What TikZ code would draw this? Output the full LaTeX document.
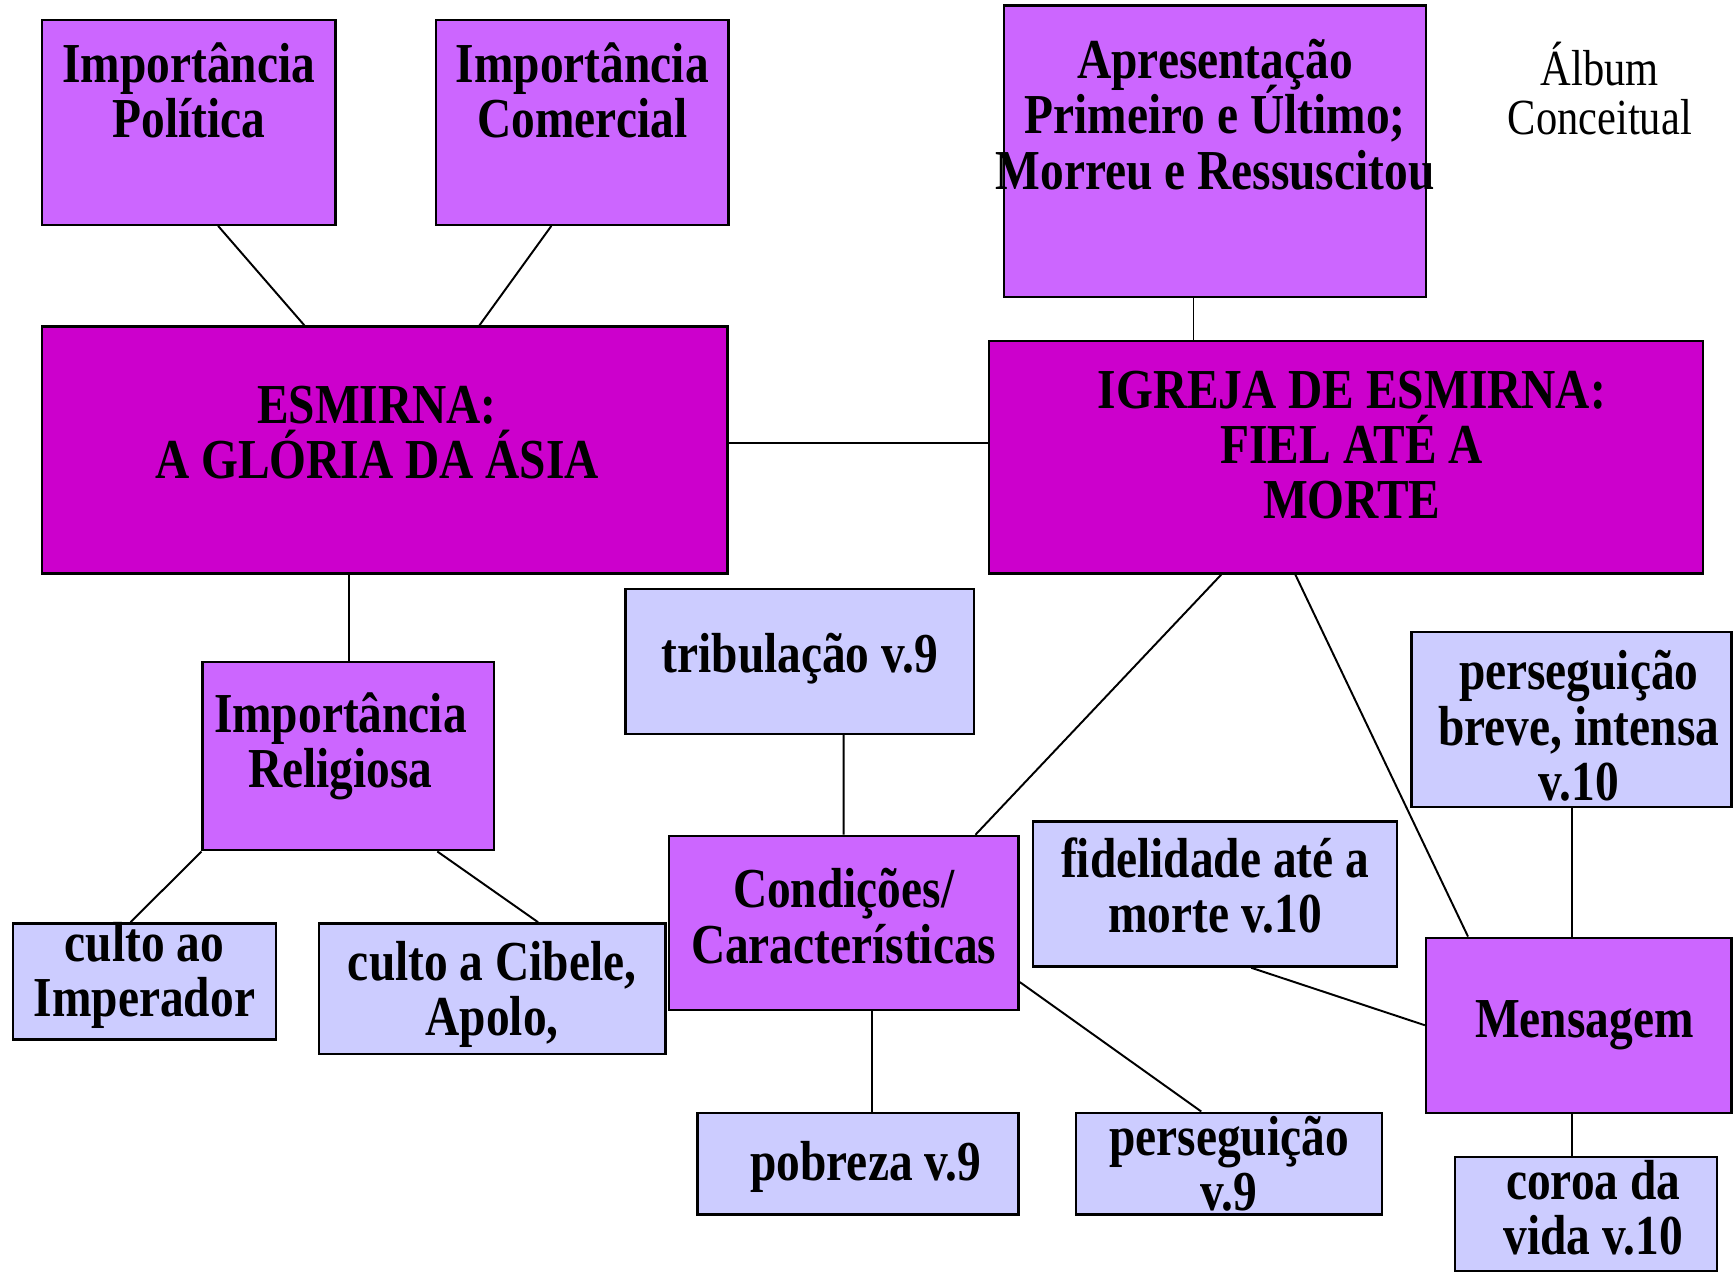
\documentclass[tikz,border=0pt]{standalone}
\usepackage{fontspec}
\setmainfont{Liberation Serif}[FakeStretch=0.84]
\usetikzlibrary{positioning}
\definecolor{lilac}{RGB}{204,102,255}
\definecolor{plum}{RGB}{204,0,204}
\definecolor{lavender}{RGB}{204,204,255}
\lineskiplimit=-\maxdimen

\begin{document}
\begin{tikzpicture}[x=0.1mm,y=-0.1mm]
\tikzstyle{box}=[draw=black,line width=0.6pt,rectangle,inner sep=0pt]
\tikzstyle{lilacbox}=[box,fill=lilac]
\tikzstyle{plumbox}=[box,fill=plum]
\tikzstyle{lavbox}=[box,fill=lavender]
\tikzstyle{txt}=[align=center,inner sep=0pt,font=\fontsize{14.5}{14.2}\selectfont\bfseries]
\tikzstyle{link}=[line width=0.5pt]
\useasboundingbox (0,0) rectangle (1568,1150);
% boxes
\node [lilacbox,minimum width=26.5mm,minimum height=18.5mm] at (170.5,110.5) (pol) {};
\node [lilacbox,minimum width=26.4mm,minimum height=18.5mm] at (526,110.5) (com) {};
\node [lilacbox,minimum width=38.1mm,minimum height=26.3mm] at (1097.5,136.5) (apr) {};
\node [plumbox,minimum width=61.9mm,minimum height=22.3mm] at (347.5,406.5) (esm) {};
\node [plumbox,minimum width=64.5mm,minimum height=21mm] at (1215.5,413) (igr) {};
\node [lilacbox,minimum width=26.3mm,minimum height=17mm] at (314.5,683) (rel) {};
\node [lavbox,minimum width=23.7mm,minimum height=10.5mm] at (130.5,886.5) (imp) {};
\node [lavbox,minimum width=31.3mm,minimum height=11.8mm] at (444.5,893) (cib) {};
\node [lavbox,minimum width=31.5mm,minimum height=13.1mm] at (722.5,597.5) (tri) {};
\node [lilacbox,minimum width=31.6mm,minimum height=15.7mm] at (762,833.5) (con) {};
\node [lavbox,minimum width=29mm,minimum height=9.2mm] at (775,1051) (pob) {};
\node [lavbox,minimum width=27.6mm,minimum height=9.2mm] at (1110,1051) (pv9) {};
\node [lavbox,minimum width=32.9mm,minimum height=13.1mm] at (1097.5,807.5) (fid) {};
\node [lavbox,minimum width=28.9mm,minimum height=15.8mm] at (1419.5,650) (pbr) {};
\node [lilacbox,minimum width=27.6mm,minimum height=15.8mm] at (1426,926) (men) {};
\node [lavbox,minimum width=23.7mm,minimum height=10.3mm] at (1432.5,1096.5) (cor) {};
% texts
\node [txt] at ([yshift=2.9mm]pol) (pol-t) {Importância\\Política};
\node [txt] at ([yshift=2.9mm]com) (com-t) {Importância\\Comercial};
\node [txt] at ([yshift=3.3mm]apr) (apr-t) {Apresentação\\Primeiro e Último;\\Morreu e Ressuscitou};
\node [txt] at ([xshift=-0.7mm,yshift=1.55mm]esm) (esm-t) {ESMIRNA:\\A GLÓRIA DA ÁSIA};
\node [txt] at ([xshift=0.55mm,yshift=1.1mm]igr) (igr-t) {IGREJA DE ESMIRNA:\\FIEL ATÉ A\\MORTE};
\node [txt] at ([xshift=-0.7mm,yshift=0.9mm]rel) (rel-t) {Importância\\Religiosa};
\node [txt] at ([yshift=0.55mm]imp) (imp-t) {culto ao\\Imperador};
\node [txt] at ([yshift=-0.5mm]cib) (cib-t) {culto a Cibele,\\Apolo,};
\node [txt] at ([yshift=0.25mm]tri) (tri-t) {tribulação v.9};
\node [txt] at ([yshift=0.6mm]con) (con-t) {Condições/\\Características};
\node [txt] at ([xshift=0.7mm,yshift=-0.3mm]pob) (pob-t) {pobreza v.9};
\node [txt] at (pv9) (pv9-t) {perseguição\\v.9};
\node [txt] at ([yshift=0.75mm]fid) (fid-t) {fidelidade até a\\morte v.10};
\node [txt] at ([xshift=0.65mm,yshift=-0.55mm]pbr) (pbr-t) {perseguição\\breve, intensa\\v.10};
\node [txt] at ([xshift=0.5mm]men) (men-t) {Mensagem};
\node [txt] at ([xshift=0.65mm,yshift=0.55mm]cor) (cor-t) {coroa da\\vida v.10};
\node [align=center,inner sep=0pt,font=\fontsize{13}{12.6}\selectfont] at (1445,80) (album) {Álbum\\Conceitual};
% connectors
\draw [link] ([xshift=2.65mm]pol.south) -- ([xshift=-7.25mm]esm.north);
\draw [link] ([xshift=-2.8mm]com.south) -- ([xshift=8.55mm]esm.north);
\draw [link] ([xshift=-1.95mm]apr.south) -- ([xshift=-1.95mm]apr.south |- igr.north);
\draw [link] ([yshift=0.65mm]esm.east) -- ([yshift=0.65mm]esm.east -| igr.west);
\draw [link] ([xshift=-3.25mm]esm.south) -- ([xshift=-3.25mm]esm.south |- rel.north);
\draw [link] (rel.south west) -- ([xshift=-1.25mm]imp.north);
\draw [link] ([xshift=8.05mm]rel.south) -- ([xshift=4.15mm]cib.north);
\draw [link] ([xshift=3.95mm]tri.south) -- (con.north);
\draw [link] ([xshift=-11.25mm]igr.south) -- ([xshift=-4mm]con.north east);
\draw [link] ([xshift=-4.55mm]igr.south) -- ([xshift=3.9mm]men.north west);
\draw [link] ([xshift=2.6mm]con.south) -- ([xshift=2.6mm]con.south |- pob.north);
\draw [link] ([yshift=-5.35mm]con.east) -- ([xshift=-2.5mm]pv9.north);
\draw [link] ([xshift=3.25mm]fid.south) -- (men.west);
\draw [link] (pbr.south) -- (pbr.south |- men.north);
\draw [link] ([xshift=-0.6mm]men.south) -- ([xshift=-0.6mm]men.south |- cor.north);
\end{tikzpicture}
\end{document}
